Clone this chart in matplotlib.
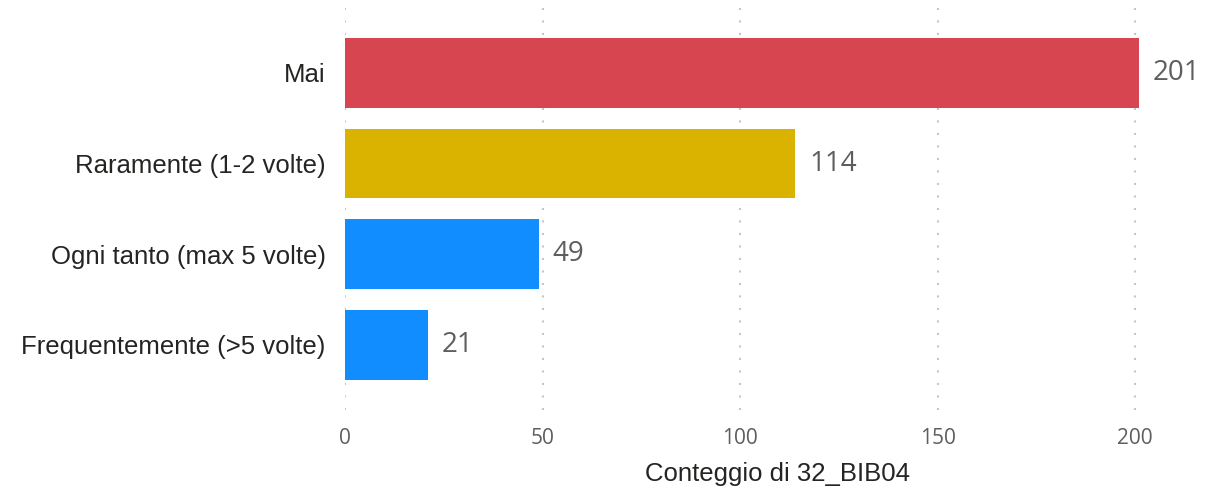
import matplotlib.pyplot as plt

categories = ["Mai", "Raramente (1-2 volte)", "Ogni tanto (max 5 volte)", "Frequentemente (>5 volte)"]
counts = [201, 114, 49, 21]
bar_colors = ["#D64550", "#D9B300", "#118DFF", "#118DFF"]
x_ticks = [0, 50, 100, 150, 200]

fig = plt.figure(figsize=(12.24, 4.92), dpi=100)
ax = fig.add_axes([0.2819, 0.1667, 0.7067, 0.8232])

y = list(range(len(categories)))
ax.barh(y, counts, height=0.77, color=bar_colors, zorder=2)

# value labels just past the end of each bar
for yi, c in zip(y, counts):
    ax.annotate(str(c), (c, yi), xytext=(10, 0), textcoords="offset points",
                va="center", ha="left", fontsize=20, color="#605E5C",
                family="Open Sans", annotation_clip=False)

ax.set_ylim(3.72, -0.75)
ax.set_xlim(0, 219)
ax.set_yticks(y)
ax.set_yticklabels(categories, fontsize=18.5, color="#252423", family="Liberation Sans")
ax.set_xticks(x_ticks)
ax.set_xticklabels([str(t) for t in x_ticks], fontsize=15, color="#605E5C", family="Open Sans")
ax.tick_params(length=0)
ax.tick_params(axis="y", pad=14)
ax.tick_params(axis="x", pad=13)

ax.grid(axis="x", color="#C8C6C4", linestyle=(0, (1, 5)), linewidth=1.5, zorder=0)
for s in ax.spines.values():
    s.set_visible(False)

ax.set_xlabel("Conteggio di 32_BIB04", fontsize=18.5, color="#252423",
              family="Liberation Sans", labelpad=9)

fig.savefig("out.png", dpi=100)
